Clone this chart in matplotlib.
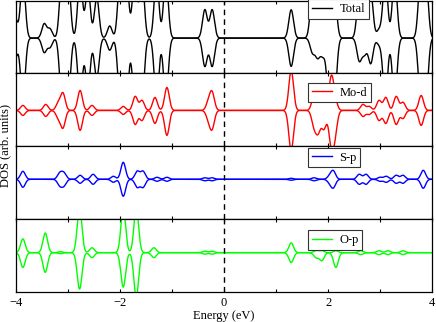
import numpy as np
import matplotlib
matplotlib.use("Agg")
import matplotlib.pyplot as plt

plt.rcParams['font.family'] = ['Liberation Serif', 'DejaVu Serif']

# peak positions (eV) with spin-up / spin-down heights (arb. units)
total_e  = [-4.02, -3.87, -3.46, -3.35, -3.12, -3.00, -2.77, -2.62, -2.45, -2.20, -2.00, -1.88,
            -1.72, -1.58, -1.30, -1.12, -0.37, -0.23, 1.29, 1.70, 1.80, 1.90, 2.02, 2.12,
            2.60, 2.70, 2.82, 2.98, 3.10, 3.28, 3.78, 3.88]
total_up = [20, 60, 14, 9, 60, 60, 60, 50, 40, 12, 60, 60,
            60, 60, 60, 60, 28, 28, 28, 45, 40, 40, 45, 45,
            45, 30, 45, 8, 60, 60, 60, 60]
total_dn = [20, 60, 14, 9, 60, 60, 60, 50, 40, 12, 60, 60,
            60, 60, 60, 60, 28, 28, 28, 14, 18, 16, 60, 60,
            22, 15, 25, 6, 60, 60, 60, 60]

mod_e  = [-3.87, -3.43, -3.19, -3.10, -2.77, -2.54, -1.94, -1.71, -1.58, -1.33, -1.10,
          -0.30, -0.23, 1.29, 1.73, 1.81, 1.92, 2.06, 2.13, 2.67, 2.79, 2.98, 3.11, 3.31, 3.44, 3.79]
mod_up = [5, 6, 7, 17, 20, 5, 4, 14, 10, 13, 23,
          8, 17, 40, 14, 12, 14, 32, 10, 6, 4, 10, 13, 14, 8, 15]
mod_dn = [5, 6, 7, 17, 20, 5, 4, 14, 10, 13, 25,
          8, 17, 40, 15, 20, 18, 32, 22, 6, 4, 10, 13, 14, 8, 15]

sp_e  = [-3.87, -3.16, -3.08, -2.77, -2.52, -2.13, -1.94, -1.67, -1.56, -1.29, -1.10,
         -0.37, -0.23, 1.29, 1.73, 2.03, 2.10, 2.60, 2.73, 3.00, 3.12, 3.31, 3.44, 3.83]
sp_up = [8, 6, 6, 4, 5, 3, 17, 8, 8, 2, 2,
         1.5, 1.5, 1, 1.5, 3, 8, 5, 5, 2, 3, 4, 4, 9]
sp_dn = [8, 6, 6, 4, 5, 3, 17, 8, 8, 2, 2,
         1.5, 1.5, 1, 1.5, 3, 8, 5, 5, 2, 3, 4, 4, 9]

op_e  = [-3.87, -3.44, -3.15, -2.78, -2.54, -1.94, -1.69, -1.35, -0.37, -0.23,
         1.29, 1.77, 1.88, 2.15, 2.63, 2.98, 3.15, 3.44]
op_up = [14, 20, 1, 45, 5, 45, 45, 5, 1.5, 1.5,
         10, 2, 2, 2, 2, 2, 2, 2]
op_dn = [15, 20, 1, 37, 5, 35, 45, 5, 1.5, 1.5,
         10, 5, 8, 15, 2, 2, 2, 2]

labels = ["Total", "Mo-d", "S-p", "O-p"]
colors = ["black", "red", "blue", "#00ff00"]

energy = np.linspace(-4, 4, 3001)
sigma = 0.045

def broaden(centers, heights):
    y = np.zeros_like(energy)
    for c, h in zip(centers, heights):
        y += h * np.exp(-0.5 * ((energy - c) / sigma) ** 2)
    return y

series = [(total_e, total_up, total_dn), (mod_e, mod_up, mod_dn),
          (sp_e, sp_up, sp_dn), (op_e, op_up, op_dn)]
ylims = [(-35, 37), (-36, 37), (-40, 33), (-40, 34)]
leg_y = [1.02, 0.87, 0.98, 0.85]

fig, axes = plt.subplots(4, 1, sharex=True, figsize=(4.36, 3.22), dpi=100)
fig.subplots_adjust(left=0.037, right=0.991, top=0.998, bottom=0.093, hspace=0)

for ax, (e, up, dn), lab, col, yl, ly in zip(axes, series, labels, colors, ylims, leg_y):
    ax.plot(energy, broaden(e, up), color=col, lw=1.0, label=lab)
    ax.plot(energy, -broaden(e, dn), color=col, lw=1.0)
    ax.axvline(0, color="black", ls=(0, (4, 3)), lw=1.0)
    ax.set_xlim(-4, 4)
    ax.set_ylim(*yl)
    ax.set_yticks([])
    ax.set_xticks([-4, -2, 0, 2, 4])
    ax.set_xticks([-3, -1, 1, 3], minor=True)
    ax.tick_params(axis="x", which="both", direction="in", top=True, bottom=True,
                   length=2.5, width=0.8, labelsize=9, pad=3.5)
    for s in ax.spines.values():
        s.set_linewidth(0.9)
    leg = ax.legend(loc="upper left", bbox_to_anchor=(0.702, ly), fontsize=9,
                    handlelength=1.6, handletextpad=0.6, borderpad=0.3, fancybox=False,
                    framealpha=1, edgecolor="#333333", borderaxespad=0)
    leg.get_frame().set_linewidth(0.8)

axes[-1].set_xlabel("Energy (eV)", fontsize=9, labelpad=1)
fig.text(0.012, 0.547, "DOS (arb. units)", rotation=90, ha="center", va="center", fontsize=9)

fig.savefig("out.png", dpi=100)
